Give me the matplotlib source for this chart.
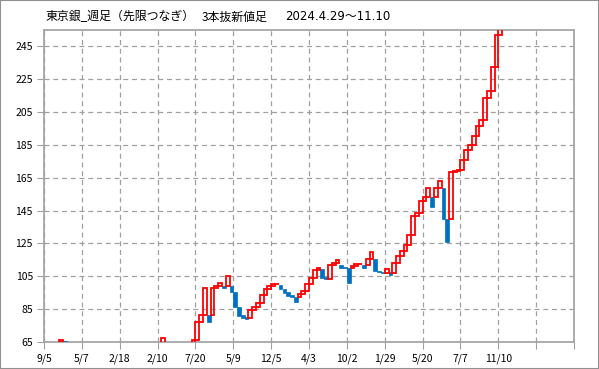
import matplotlib.pyplot as plt

plt.rcParams['font.family'] = ['Noto Sans CJK JP', 'DejaVu Sans']

# column index of each line (10 columns per x grid interval)
cols = [4, 5, 31, 39, 40, 41, 42, 43, 44, 45, 46, 47, 48, 49, 50, 51, 52, 53,
        54, 55, 56, 57, 58, 59, 60, 61, 62, 63, 64, 65, 66, 67, 68, 69, 70, 71,
        72, 73, 74, 75, 76, 77, 78, 79, 80, 81, 82, 83, 84, 85, 86, 87, 88, 89,
        90, 91, 92, 93, 94, 95, 96, 97, 98, 99, 100, 101, 102, 103, 104, 105,
        106, 107, 108, 109, 110, 111, 112, 113, 114, 115, 116, 117, 118, 119, 120]
opens = [65.3, 65.8, 60, 60, 66, 77.4, 81.4, 81.4, 81.4, 97.7, 99.2, 99.2, 99.2, 99, 95.2, 86.5, 81.4, 80.4,
         79.8, 84.5, 86.1, 88.5, 93.6, 97, 99, 100.1, 99.7, 97, 95.2, 93.4, 92.6, 92.2, 94.5, 96.2, 100.3, 103.7,
         108.8, 109.5, 104.5, 103.1, 111.8, 112.9, 111.8, 110.8, 109.8, 109.8, 111.4, 112.2, 111.8, 111.8, 115.3, 115.3, 108.4, 107.8,
         107.1, 107.8, 107.1, 112.9, 117.3, 120.3, 124, 130, 141.6, 143.6, 150.7, 153.4, 153.4, 153.4, 158.5, 158.5,
         140.2, 140.2, 168.5, 169.3, 170, 176.1, 182.2, 184.8, 190.7, 196.4, 200, 213.4, 218.1, 232.6, 251.7]
closes = [66.2, 64.8, 67.5, 66, 77.4, 81.4, 97.7, 77, 97.7, 99.2, 100.7, 97.7, 105.2, 95.2, 86.5, 81, 79.8, 79.2,
          84.5, 86.1, 88.5, 93.6, 97, 99, 100.1, 100.5, 97, 95, 93, 92.6, 89.1, 94.5, 96.2, 100.3, 103.7, 108.8,
          110, 104, 103.5, 111.8, 112.9, 114.9, 109.8, 109.8, 101, 111.4, 112.2, 112.5, 110.3, 115.3, 119.9, 108.4, 107.4, 106.8,
          109.2, 105.8, 112.9, 117.3, 120.3, 124, 130, 141.6, 143.6, 150.7, 153.4, 158.5, 147.3, 158.5, 162.9, 139.8,
          126, 168.5, 169.3, 170, 176.1, 182.2, 184.8, 190.7, 196.4, 200, 213.4, 218.1, 232.6, 251.7, 258]

x_labels = ['9/5', '5/7', '2/18', '2/10', '7/20', '5/9', '12/5', '4/3', '10/2',
            '1/29', '5/20', '7/7', '11/10', '', '']
y_ticks = [65, 85, 105, 125, 145, 165, 185, 205, 225, 245]

fig = plt.figure(figsize=(5.99, 3.69), dpi=100)
ax = fig.add_axes([44 / 599, 27 / 369, 530 / 599, 312 / 369])

up_x = [c for c, o, cl in zip(cols, opens, closes) if cl >= o]
up_b = [o for o, cl in zip(opens, closes) if cl >= o]
up_h = [cl - o for o, cl in zip(opens, closes) if cl >= o]
dn_x = [c for c, o, cl in zip(cols, opens, closes) if cl < o]
dn_b = [cl for o, cl in zip(opens, closes) if cl < o]
dn_h = [o - cl for o, cl in zip(opens, closes) if cl < o]

ax.bar(dn_x, dn_h, bottom=dn_b, width=1, align='edge', color='#0070c0',
       edgecolor='#0070c0', linewidth=0.5, zorder=3)
ax.bar(up_x, up_h, bottom=up_b, width=1, align='edge', fill=False,
       edgecolor='#ff0000', linewidth=1.3, zorder=4)

ax.set_xlim(0, 140)
ax.set_ylim(65, 255)
ax.set_xticks(range(0, 150, 10))
ax.set_xticklabels(x_labels)
ax.set_yticks(y_ticks)
ax.grid(True, color='#a0a0a0', linestyle=(0, (4, 3)), linewidth=0.9)
ax.tick_params(labelsize=7.5, length=5, color='#a0a0a0', pad=3)
for s in ax.spines.values():
    s.set_color('#a0a0a0')
    s.set_linewidth(1.2)

fig.text(45 / 599, 1 - 17 / 369, '東京銀_週足（先限つなぎ）',
         fontsize=8.6, va='center', ha='left')
fig.text(202 / 599, 1 - 17 / 369, '3本抜新値足',
         fontsize=8.6, va='center', ha='left')
fig.text(285 / 599, 1 - 17 / 369, '2024.4.29～11.10', fontsize=8.5,
         va='center', ha='left', family=['DejaVu Sans', 'Noto Sans CJK JP'])

fig.add_artist(plt.Rectangle((0, 0), 1, 1, transform=fig.transFigure, fill=False,
                             edgecolor='#909090', linewidth=1.5))

fig.savefig('out.png', dpi=100)
